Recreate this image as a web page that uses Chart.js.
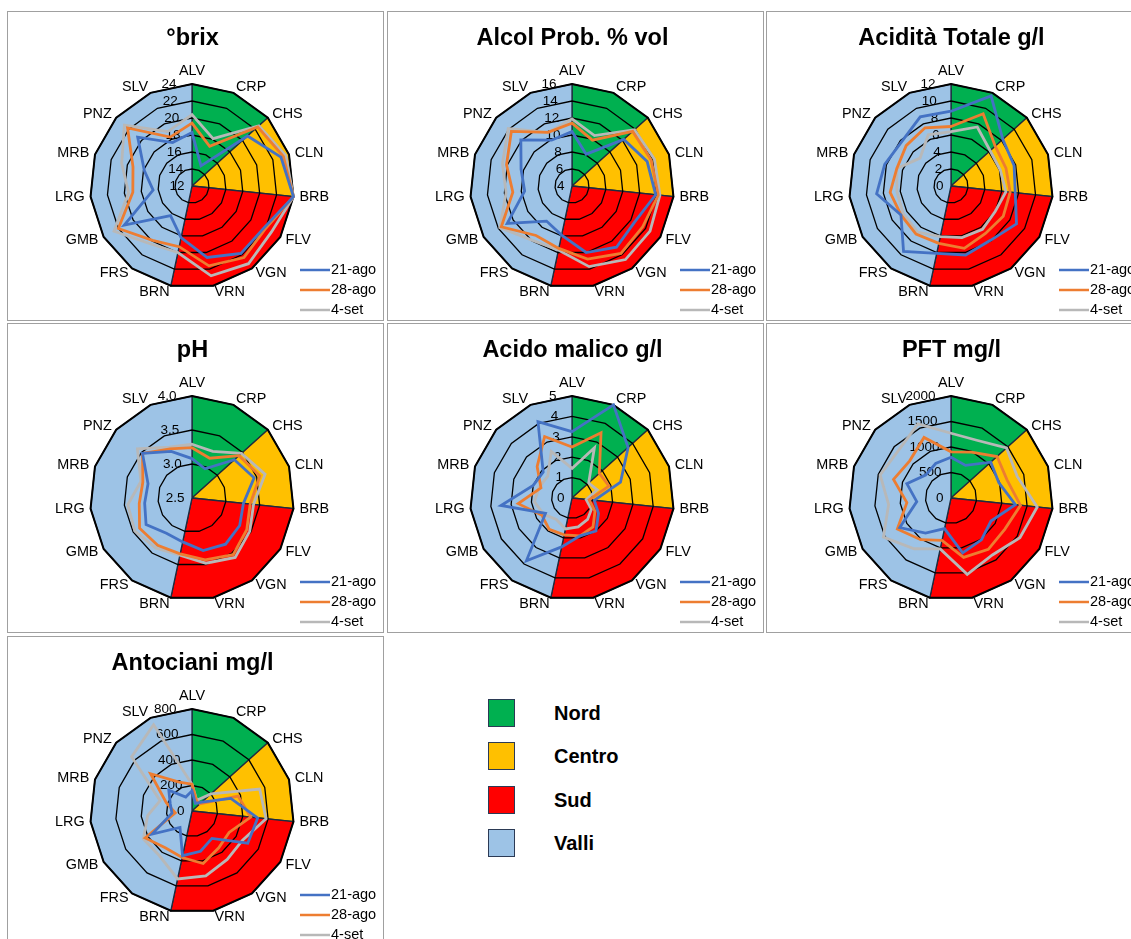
<!DOCTYPE html>
<html>
<head>
<meta charset="utf-8">
<script src="https://cdn.jsdelivr.net/npm/chart.js@4.4.0/dist/chart.umd.min.js"></script>
<style>
  body {
    margin: 0;
    width: 1131px;
    height: 939px;
    overflow: hidden;
    position: relative;
    background: #ffffff;
    font-family: "Liberation Sans", Arial, sans-serif;
  }
  .pannello {
    position: absolute;
    width: 375px;
    height: 308px;
    border: 1px solid #a0a0a0;
    background: #ffffff;
  }
  .pannello canvas { display: block; }
  #legenda-regioni { position: absolute; left: 488px; top: 699px; }
  .voce { position: absolute; left: 0; height: 28px; white-space: nowrap; }
  .quadrato {
    position: absolute; left: 0; top: 0;
    width: 25px; height: 26px;
    border: 1.5px solid #2b3a55;
  }
  .nome {
    position: absolute; left: 66px; top: 3px;
    line-height: 28px;
    font: bold 20px "Liberation Sans", Arial, sans-serif;
    color: #000;
  }
</style>
</head>
<body>
<div id="legenda-regioni"></div>
<script>
// categorie (località) e date di campionamento
const categorie = ["ALV", "CRP", "CHS", "CLN", "BRB", "FLV", "VGN", "VRN", "BRN", "FRS", "GMB", "LRG", "MRB", "PNZ", "SLV"];
const date = ["21-ago", "28-ago", "4-set"];
const coloriDate = ["#4472C4", "#ED7D31", "#B8B8B8"];

// zone: ogni zona parte dalla sua prima località e arriva alla prima della zona dopo
const regioni = ["Nord", "Centro", "Sud", "Valli"];
const inizioRegione = ["ALV", "CHS", "BRB", "BRN"];
const coloriRegioni = ["#00B050", "#FFC000", "#FF0000", "#9DC3E6"];

// °brix
const tickBrix = [12, 14, 16, 18, 20, 22, 24];
const brix_21ago = [18.3, 14.6, 20.8, 23.0, 24.0, 21.8, 21.8, 20.6, 18.2, 16.3, 21.2, 16.6, 17.9, 20.6, 17.6];
const brix_28ago = [19.4, 17.1, 22.4, 23.3, 24.0, 22.0, 22.4, 21.6, 19.3, 19.9, 22.0, 19.0, 19.3, 22.2, 18.3];
const brix_4set = [20.4, 18.1, 22.6, 23.6, 24.0, 22.8, 23.3, 22.8, 20.0, 20.4, 22.6, 19.5, 20.7, 22.7, 19.0];

// Alcol probabile
const tickAlcol = [4, 6, 8, 10, 12, 14, 16];
const alcol_21ago = [10.4, 8.1, 12.2, 13.3, 13.9, 12.5, 12.9, 12.0, 9.9, 9.1, 12.8, 9.6, 10.3, 12.1, 9.9];
const alcol_28ago = [11.4, 9.9, 13.6, 13.8, 14.2, 13.6, 13.8, 12.8, 11.5, 11.2, 13.6, 11.0, 12.1, 13.6, 10.9];
const alcol_4set = [11.9, 10.5, 13.9, 14.2, 14.4, 14.6, 14.7, 13.7, 11.7, 11.9, 13.8, 11.8, 12.6, 14.1, 10.9];

// Acidità totale
const tickAcidita = [0, 2, 4, 6, 8, 10, 12];
const acidita_21ago = [8.8, 11.6, 8.2, 7.8, 7.6, 8.9, 7.9, 8.3, 8.1, 9.5, 6.8, 8.8, 8.2, 7.8, 8.9];
const acidita_28ago = [7.0, 9.3, 7.0, 6.8, 7.0, 7.1, 6.9, 7.5, 6.9, 7.0, 6.8, 7.2, 6.7, 7.1, 7.5];
const acidita_4set = [6.4, 7.6, 6.2, 6.1, 6.5, 6.0, 6.3, 6.2, 6.1, 6.7, 6.5, 6.4, 6.7, 4.9, 6.6];

// pH
const tickPh = [2.5, 3.0, 3.5, 4.0];
const ph_21ago = [3.08, 2.97, 3.34, 3.46, 3.26, 3.31, 3.34, 3.29, 3.16, 3.14, 3.28, 3.20, 3.18, 3.48, 3.25];
const ph_28ago = [3.24, 3.14, 3.43, 3.55, 3.36, 3.43, 3.53, 3.43, 3.34, 3.36, 3.39, 3.28, 3.26, 3.48, 3.29];
const ph_4set = [3.29, 3.25, 3.48, 3.63, 3.41, 3.48, 3.58, 3.48, 3.36, 3.41, 3.47, 3.45, 3.29, 3.58, 3.32];

// Acido malico
const tickMalico = [0, 1, 2, 3, 4, 5];
const malico_21ago = [3.25, 5.0, 3.7, 2.5, 1.1, 1.5, 2.0, 1.9, 2.45, 3.8, 1.5, 3.5, 2.0, 1.9, 4.1];
const malico_28ago = [2.5, 3.5, 1.8, 1.9, 0.85, 1.3, 1.75, 1.9, 1.85, 1.9, 1.7, 2.65, 1.6, 2.3, 3.3];
const malico_4set = [1.45, 2.7, 1.1, 1.3, 0.7, 1.1, 1.3, 1.45, 1.55, 1.3, 1.6, 1.85, 1.7, 1.6, 2.5];

// PFT
const tickPft = [0, 500, 1000, 1500, 2000];
const pft_21ago = [800, 700, 1050, 985, 1270, 905, 1015, 1100, 615, 850, 1160, 675, 910, 670, 740];
const pft_28ago = [905, 985, 1215, 1155, 1370, 1220, 1245, 1190, 850, 1010, 1215, 870, 1185, 1090, 1300];
const pft_4set = [1270, 1240, 1465, 1365, 1700, 1560, 1380, 1530, 1020, 1230, 1530, 1230, 1460, 1390, 1590];

// Antociani
const tickAntociani = [0, 200, 400, 600, 800];
const antociani_21ago = [158, 66, 103, 320, 518, 505, 266, 323, 358, 160, 361, 158, 179, 245, 120];
const antociani_28ago = [210, 88, 85, 380, 463, 336, 357, 421, 373, 357, 424, 132, 212, 437, 248];
const antociani_4set = [210, 92, 200, 558, 584, 458, 470, 520, 545, 434, 440, 350, 263, 637, 740];

const grafici = [
  { titolo: "°brix", tick: tickBrix, decimali: 0, serie: [brix_21ago, brix_28ago, brix_4set] },
  { titolo: "Alcol Prob. % vol", tick: tickAlcol, decimali: 0, serie: [alcol_21ago, alcol_28ago, alcol_4set] },
  { titolo: "Acidità Totale g/l", tick: tickAcidita, decimali: 0, serie: [acidita_21ago, acidita_28ago, acidita_4set] },
  { titolo: "pH", tick: tickPh, decimali: 1, serie: [ph_21ago, ph_28ago, ph_4set] },
  { titolo: "Acido malico g/l", tick: tickMalico, decimali: 0, serie: [malico_21ago, malico_28ago, malico_4set] },
  { titolo: "PFT mg/l", tick: tickPft, decimali: 0, serie: [pft_21ago, pft_28ago, pft_4set] },
  { titolo: "Antociani mg/l", tick: tickAntociani, decimali: 0, serie: [antociani_21ago, antociani_28ago, antociani_4set] }
];

// spicchi colorati delle zone, sotto la griglia
const settori = {
  id: "settori",
  beforeDraw(chart) {
    const r = chart.scales.r;
    const ctx = chart.ctx;
    const n = categorie.length;
    regioni.forEach((reg, k) => {
      const da = categorie.indexOf(inizioRegione[k]);
      let a = categorie.indexOf(inizioRegione[(k + 1) % regioni.length]);
      if (a <= da) a += n;
      ctx.save();
      ctx.beginPath();
      ctx.moveTo(r.xCenter, r.yCenter);
      for (let i = da; i <= a; i++) {
        const p = r.getPointPosition(i % n, r.drawingArea);
        ctx.lineTo(p.x, p.y);
      }
      ctx.closePath();
      ctx.fillStyle = coloriRegioni[k];
      ctx.fill();
      ctx.strokeStyle = "#1d2b3f";
      ctx.lineWidth = 1.3;
      ctx.stroke();
      ctx.restore();
    });
  }
};

// etichette delle località e dei valori dell'asse
const etichette = {
  id: "etichette",
  beforeDatasetsDraw(chart, args, opts) {
    const r = chart.scales.r;
    const ctx = chart.ctx;
    const n = categorie.length;
    ctx.save();
    ctx.fillStyle = "#000";
    ctx.textBaseline = "middle";
    ctx.font = '14.4px "Liberation Sans", Arial, sans-serif';
    categorie.forEach((nome, i) => {
      const p = r.getPointPosition(i, r.drawingArea + 6);
      const ang = Math.round(360 * i / n);
      ctx.textAlign = (ang === 0 || ang === 180) ? "center" : (ang < 180 ? "left" : "right");
      ctx.fillText(nome, p.x, ang === 0 ? p.y - 7 : p.y);
    });
    ctx.font = '13.5px "Liberation Sans", Arial, sans-serif';
    ctx.textAlign = "right";
    opts.tick.forEach(v => {
      const d = r.getDistanceFromCenterForValue(v);
      ctx.fillText(v.toFixed(opts.decimali), r.xCenter - 7.5 - d * 0.078, r.yCenter - d);
    });
    ctx.restore();
  }
};

// legenda delle date in basso a destra
const legendaSerie = {
  id: "legendaSerie",
  afterDraw(chart) {
    const ctx = chart.ctx;
    ctx.save();
    ctx.font = '14.5px "Liberation Sans", Arial, sans-serif';
    ctx.textBaseline = "middle";
    ctx.textAlign = "left";
    chart.data.datasets.forEach((ds, k) => {
      const y = 258 + 20 * k;
      ctx.strokeStyle = ds.borderColor;
      ctx.lineWidth = 2.5;
      ctx.beginPath();
      ctx.moveTo(292, y);
      ctx.lineTo(322, y);
      ctx.stroke();
      ctx.fillStyle = "#000";
      ctx.fillText(ds.label, 323, y);
    });
    ctx.restore();
  }
};

grafici.forEach((g, i) => {
  const col = i % 3;
  const riga = Math.floor(i / 3);
  const div = document.createElement("div");
  div.className = "pannello";
  div.style.left = (7 + col * 379.5) + "px";
  div.style.top = (11 + riga * 312.3) + "px";
  const canvas = document.createElement("canvas");
  canvas.width = 375;
  canvas.height = 308;
  div.appendChild(canvas);
  document.body.appendChild(div);

  const min = g.tick[0];
  const max = g.tick[g.tick.length - 1];

  new Chart(canvas, {
    type: "radar",
    data: {
      labels: categorie,
      datasets: g.serie.map((valori, k) => ({
        label: date[k],
        data: valori,
        borderColor: coloriDate[k],
        backgroundColor: coloriDate[k],
        borderWidth: 2.8,
        pointRadius: 0,
        fill: false
      }))
    },
    options: {
      responsive: false,
      animation: false,
      layout: { padding: { left: 0, right: 6, top: 0, bottom: 31.5 } },
      scales: {
        r: {
          min: min,
          max: max,
          ticks: { display: false, stepSize: g.tick[1] - g.tick[0] },
          grid: {
            color: "#000",
            lineWidth: (c) => (c.tick && c.tick.value === max) ? 2 : 1.3
          },
          angleLines: { display: false },
          pointLabels: { display: false }
        }
      },
      plugins: {
        legend: { display: false },
        tooltip: { enabled: false },
        title: {
          display: true,
          text: g.titolo,
          color: "#000",
          font: { family: "Liberation Sans", size: 23.5, weight: "bold" },
          padding: { top: 12, bottom: 32.3 }
        },
        etichette: { tick: g.tick, decimali: g.decimali }
      }
    },
    plugins: [settori, etichette, legendaSerie]
  });
});

// legenda delle zone
const legenda = document.getElementById("legenda-regioni");
regioni.forEach((reg, k) => {
  const voce = document.createElement("div");
  voce.className = "voce";
  voce.style.top = (k * 43.3) + "px";
  const q = document.createElement("div");
  q.className = "quadrato";
  q.style.background = coloriRegioni[k];
  const t = document.createElement("div");
  t.className = "nome";
  t.textContent = reg;
  voce.appendChild(q);
  voce.appendChild(t);
  legenda.appendChild(voce);
});
</script>
</body>
</html>
